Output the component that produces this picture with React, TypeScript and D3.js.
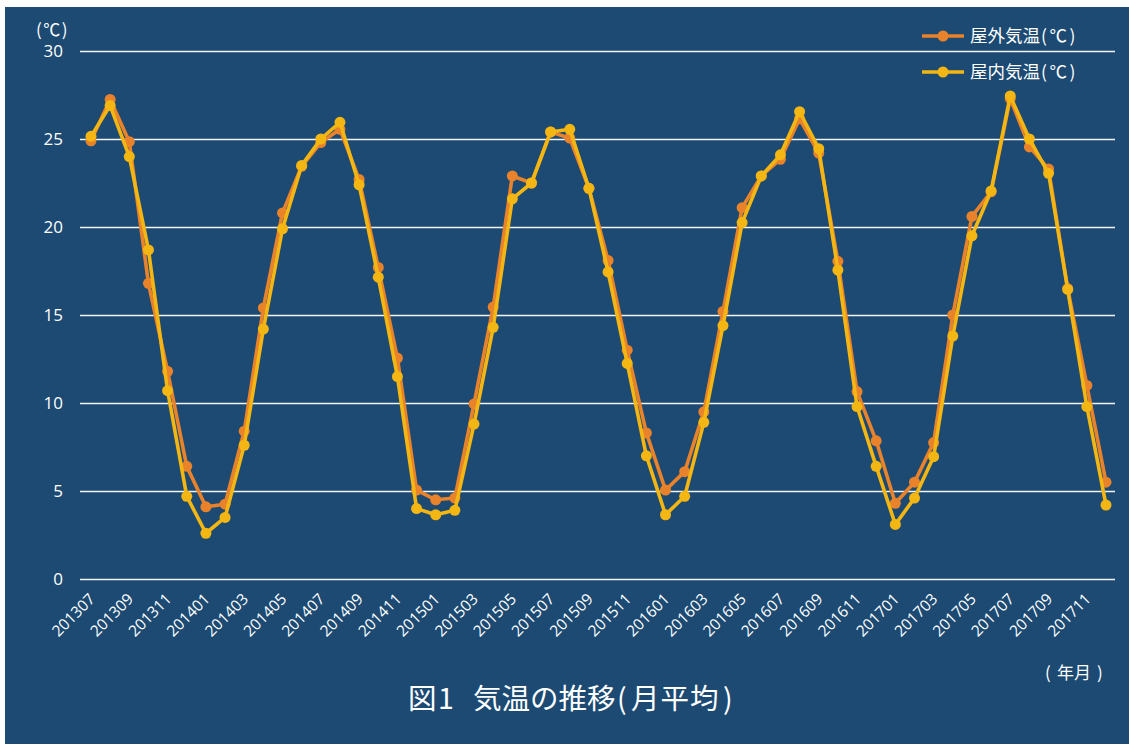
import React from "react";
import * as d3 from "d3";

// Monthly periods, July 2013 – December 2017
const months: string[] = [
  "201307", "201308", "201309", "201310", "201311", "201312",
  "201401", "201402", "201403", "201404", "201405", "201406",
  "201407", "201408", "201409", "201410", "201411", "201412",
  "201501", "201502", "201503", "201504", "201505", "201506",
  "201507", "201508", "201509", "201510", "201511", "201512",
  "201601", "201602", "201603", "201604", "201605", "201606",
  "201607", "201608", "201609", "201610", "201611", "201612",
  "201701", "201702", "201703", "201704", "201705", "201706",
  "201707", "201708", "201709", "201710", "201711", "201712",
];

// Outdoor monthly mean temperature (°C)
const outdoor: number[] = [
  24.9, 27.25, 24.85, 16.8, 11.8, 6.4,
  4.1, 4.25, 8.4, 15.4, 20.8, 23.45,
  24.8, 25.55, 22.7, 17.7, 12.55, 5.05,
  4.5, 4.6, 9.95, 15.45, 22.9, 22.5,
  25.4, 25.05, 22.2, 18.1, 13.0, 8.3,
  5.05, 6.1, 9.5, 15.2, 21.1, 22.9,
  23.85, 26.15, 24.2, 18.05, 10.65, 7.85,
  4.3, 5.5, 7.75, 15.0, 20.6, 22.0,
  27.3, 24.55, 23.3, 16.5, 11.0, 5.5,
];

// Indoor monthly mean temperature (°C)
const indoor: number[] = [
  25.15, 26.9, 24.0, 18.7, 10.7, 4.7,
  2.6, 3.5, 7.6, 14.2, 19.9, 23.5,
  25.0, 25.95, 22.4, 17.15, 11.5, 4.0,
  3.65, 3.9, 8.8, 14.3, 21.6, 22.5,
  25.4, 25.55, 22.2, 17.45, 12.25, 7.0,
  3.65, 4.7, 8.9, 14.4, 20.25, 22.9,
  24.1, 26.55, 24.45, 17.55, 9.8, 6.4,
  3.1, 4.6, 6.95, 13.8, 19.5, 22.05,
  27.45, 25.0, 23.05, 16.45, 9.8, 4.2,
];

const yTicks: number[] = [0, 5, 10, 15, 20, 25, 30];
const xTickLabels: string[] = months.filter((_, i) => i % 2 === 0);

const seriesNames: string[] = ["屋外気温", "屋内気温"];
const seriesUnit = "(℃)";
const seriesColors: string[] = ["#e8822b", "#f3b612"];

const W = 1129;
const H = 744;

export default function App() {
  const x = d3.scalePoint<string>().domain(months).range([91, 1106]);
  const y = d3.scaleLinear().domain([0, 30]).range([579, 51]);

  const line = d3
    .line<number>()
    .x((_, i) => x(months[i]) as number)
    .y((d) => y(d));

  const series = [outdoor, indoor];
  const latin = "'Open Sans', 'Noto Sans', sans-serif";
  const cjk = "'Noto Sans CJK JP', 'Noto Sans', sans-serif";

  return (
    <svg
      width={W}
      height={H}
      style={{ position: "absolute", left: 0, top: 0 }}
      xmlns="http://www.w3.org/2000/svg"
    >
      <rect x={0} y={0} width={W} height={H} fill="#ffffff" />
      <rect x={5} y={7} width={W - 5} height={H - 7} fill="#1c4a72" />

      {/* horizontal gridlines and y tick labels */}
      {yTicks.map((t) => {
        const gy = Math.round(y(t)) + 0.5;
        return (
          <g key={t}>
            <line
              x1={80}
              x2={1115}
              y1={gy}
              y2={gy}
              stroke="#f2f4f7"
              strokeWidth={1.3}
            />
            <text
              x={63}
              y={y(t)}
              dy="0.36em"
              textAnchor="end"
              fill="#ffffff"
              fontFamily={latin}
              fontSize={17}
            >
              {t}
            </text>
          </g>
        );
      })}

      {/* unit label */}
      <text
        x={36}
        y={30}
        dy="0.36em"
        fill="#ffffff"
        fontFamily={cjk}
        fontSize={17}
        letterSpacing={1.5}
      >
        (℃)
      </text>

      {/* x tick labels, rotated */}
      {xTickLabels.map((m) => {
        const px = (x(m) as number) + 5;
        const py = 600;
        return (
          <text
            key={m}
            x={px}
            y={py}
            transform={`rotate(-45 ${px} ${py})`}
            textAnchor="end"
            fill="#ffffff"
            fontFamily={latin}
            fontSize={15.5}
          >
            {m}
          </text>
        );
      })}

      {/* series lines and markers */}
      {series.map((vals, si) => (
        <g key={si}>
          <path
            d={line(vals) || ""}
            fill="none"
            stroke={seriesColors[si]}
            strokeWidth={3.6}
            strokeLinejoin="round"
          />
          {vals.map((v, i) => (
            <circle
              key={i}
              cx={x(months[i]) as number}
              cy={y(v)}
              r={5.5}
              fill={seriesColors[si]}
            />
          ))}
        </g>
      ))}

      {/* legend */}
      {seriesNames.map((name, i) => {
        const ly = 36 + i * 36;
        return (
          <g key={name}>
            <line
              x1={922}
              x2={964}
              y1={ly}
              y2={ly}
              stroke={seriesColors[i]}
              strokeWidth={3.6}
            />
            <circle cx={943} cy={ly} r={5.5} fill={seriesColors[i]} />
            <text
              x={970}
              y={ly}
              dy="0.36em"
              fill="#ffffff"
              fontFamily={cjk}
              fontSize={17.5}
            >
              {name}
              <tspan letterSpacing={2.5} dx={1}>
                {seriesUnit}
              </tspan>
            </text>
          </g>
        );
      })}

      {/* x axis unit */}
      <text
        y={673}
        dy="0.36em"
        fill="#ffffff"
        fontFamily={cjk}
        fontSize={17}
      >
        <tspan x={1045}>(</tspan>
        <tspan x={1057}>年月</tspan>
        <tspan x={1097}>)</tspan>
      </text>

      {/* chart title */}
      <text y={709} fill="#ffffff" fontFamily={cjk} fontSize={28.5}>
        <tspan x={408}>図</tspan>
        <tspan x={438}>1</tspan>
        <tspan x={473}>気温の推移</tspan>
        <tspan x={617}>(</tspan>
        <tspan x={631} letterSpacing={1}>
          月平均
        </tspan>
        <tspan x={723}>)</tspan>
      </text>
    </svg>
  );
}
